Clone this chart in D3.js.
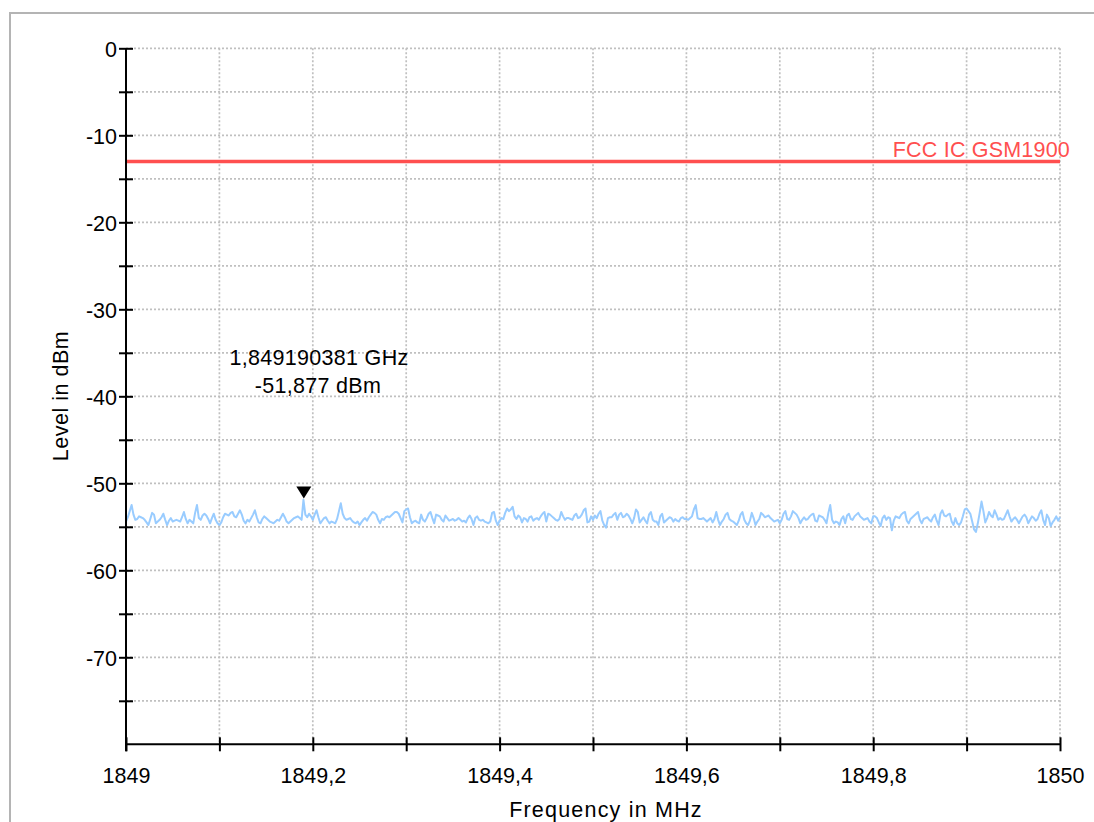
<!DOCTYPE html>
<html>
<head>
<meta charset="utf-8">
<script src="https://cdn.jsdelivr.net/npm/d3@7/dist/d3.min.js"></script>
<style>
  html, body { margin: 0; padding: 0; background: #fff; }
  svg { display: block; font-family: "Liberation Sans", Arial, Helvetica, sans-serif; }
</style>
</head>
<body>
<svg id="chart" width="1094" height="822"></svg>
<script>
// ---------------- data ----------------
const freqDomain = [1849, 1850];          // MHz
const levelDomain = [-80, 0];             // dBm
const sweepStart = 1849;                  // MHz
const sweepStep = 0.002;                  // MHz per sample
const levels = [
  -54.4,-53.9,-53.2,-52.5,-53.6,-54.2,-54.1,-53.8,-53.9,-54.0,-54.2,-54.5,-54.8,-54.1,-53.4,-53.6,-54.6,-54.4,-54.2,-53.9,-53.5,-54.2,-54.8,-54.3,-54.0,
  -54.4,-54.3,-54.2,-54.3,-54.4,-53.9,-53.3,-54.1,-54.6,-54.2,-54.4,-54.6,-53.4,-52.5,-54.0,-54.2,-53.7,-53.5,-53.7,-54.1,-54.6,-54.0,-53.5,-54.2,-54.6,
  -54.8,-54.5,-53.9,-53.5,-53.6,-53.7,-53.4,-53.3,-53.8,-53.9,-53.5,-53.1,-53.6,-54.3,-54.6,-54.2,-54.4,-54.0,-53.6,-53.1,-53.9,-54.5,-54.6,-54.1,-53.8,
  -54.0,-54.2,-54.4,-54.5,-54.6,-54.4,-54.2,-54.3,-53.9,-53.5,-53.9,-54.4,-54.6,-54.4,-54.2,-54.0,-53.9,-53.8,-54.0,-54.2,-51.9,-53.6,-53.9,-53.5,-53.8,
  -54.2,-53.6,-53.1,-53.9,-54.6,-54.3,-54.0,-53.9,-54.3,-54.6,-54.4,-54.5,-54.6,-54.1,-53.2,-52.3,-53.5,-54.0,-54.2,-54.1,-54.0,-54.3,-54.5,-54.6,-54.4,
  -54.8,-54.5,-54.2,-54.0,-54.3,-53.9,-53.6,-53.3,-53.4,-53.6,-54.2,-54.6,-54.1,-54.2,-53.9,-53.8,-53.9,-53.7,-53.5,-53.3,-53.3,-53.5,-54.0,-54.5,-53.2,
  -53.0,-52.9,-53.9,-54.6,-54.4,-54.3,-54.5,-54.6,-53.6,-54.2,-54.4,-54.0,-53.5,-53.3,-54.0,-54.6,-53.6,-53.7,-53.8,-54.2,-54.4,-53.7,-54.0,-54.3,-54.2,
  -54.1,-54.3,-54.2,-54.0,-54.2,-54.4,-54.3,-54.5,-54.0,-53.7,-54.1,-54.8,-54.0,-53.8,-54.2,-54.3,-54.2,-54.4,-54.5,-54.6,-54.4,-53.4,-53.3,-54.3,-54.8,
  -54.3,-54.0,-54.1,-53.4,-52.9,-53.2,-53.0,-52.7,-53.8,-54.1,-53.7,-53.9,-54.5,-54.0,-54.1,-54.4,-53.9,-53.8,-54.3,-54.1,-54.0,-54.2,-53.8,-53.5,-53.3,
  -54.4,-53.5,-53.6,-53.8,-54.0,-54.2,-54.3,-54.1,-53.3,-53.8,-54.2,-54.0,-54.0,-54.1,-54.2,-53.7,-53.5,-54.0,-53.9,-53.6,-53.1,-52.9,-54.5,-54.4,-53.8,
  -54.2,-53.7,-54.0,-53.5,-53.2,-54.3,-54.8,-55.1,-54.0,-53.9,-53.9,-53.6,-53.4,-54.2,-53.6,-53.4,-53.9,-53.8,-53.5,-53.7,-54.1,-54.6,-54.0,-53.0,-53.3,
  -54.5,-54.2,-53.9,-54.3,-54.6,-53.6,-53.3,-54.2,-54.4,-54.4,-54.8,-53.8,-53.5,-54.5,-54.3,-54.1,-53.9,-54.0,-54.4,-54.1,-54.3,-54.4,-54.0,-53.9,-54.1,
  -54.1,-54.2,-54.0,-53.8,-53.0,-52.5,-54.0,-54.1,-54.1,-54.0,-54.2,-54.4,-54.2,-54.0,-54.5,-54.1,-53.3,-54.2,-54.8,-54.4,-54.1,-53.6,-53.4,-54.1,-54.3,
  -54.4,-54.6,-54.8,-54.3,-53.6,-53.3,-54.2,-54.6,-54.8,-54.3,-53.4,-54.0,-54.8,-54.4,-54.1,-53.4,-53.6,-53.9,-53.8,-53.7,-54.0,-54.2,-54.4,-54.3,-54.2,
  -54.6,-54.2,-53.5,-53.2,-54.1,-54.2,-53.8,-53.2,-53.4,-53.6,-54.0,-54.6,-54.2,-53.9,-54.2,-54.1,-53.8,-53.6,-53.5,-54.3,-54.4,-53.7,-53.8,-53.9,-54.2,
  -54.6,-53.4,-52.5,-54.2,-54.6,-54.4,-54.5,-54.8,-54.1,-53.8,-54.6,-53.7,-53.5,-54.1,-54.2,-53.8,-53.6,-53.4,-53.8,-54.0,-54.2,-54.1,-54.0,-54.4,-54.6,
  -53.8,-53.8,-54.0,-54.5,-54.9,-54.0,-53.7,-54.2,-53.9,-54.0,-55.4,-54.3,-53.8,-53.9,-54.0,-53.6,-53.4,-53.3,-54.3,-54.6,-54.1,-53.9,-53.7,-53.5,-53.3,
  -54.2,-54.6,-54.1,-54.0,-53.9,-54.2,-54.4,-53.9,-53.6,-54.3,-54.8,-53.5,-53.1,-53.7,-53.8,-53.6,-53.5,-54.4,-54.8,-54.0,-54.6,-54.8,-54.5,-53.8,-53.0,
  -52.9,-53.2,-53.5,-54.4,-55.3,-55.6,-54.6,-53.4,-52.1,-53.2,-54.5,-54.0,-53.3,-53.7,-53.9,-53.1,-53.6,-54.2,-54.0,-54.2,-54.1,-53.6,-53.1,-53.8,-54.4,
  -54.1,-53.9,-54.2,-54.6,-54.2,-53.8,-53.6,-53.9,-54.6,-54.2,-53.8,-54.0,-54.3,-54.1,-53.5,-53.1,-54.2,-54.8,-53.6,-54.0,-54.9,-54.5,-54.2,-53.8,-54.3,
  -53.9
];
const limitLevel = -13;                   // dBm
const limitLabel = "FCC IC GSM1900";
const markerFreq = 1849.190381;           // MHz
const markerLevel = -51.877;              // dBm
const markerLines = ["1,849190381 GHz", "-51,877 dBm"];
const yMajorTicks = [-70, -60, -50, -40, -30, -20, -10, 0];
const yMinorTicks = [-75, -65, -55, -45, -35, -25, -15, -5];
const xTicks = [1849, 1849.1, 1849.2, 1849.3, 1849.4, 1849.5, 1849.6, 1849.7, 1849.8, 1849.9, 1850];
const xTickLabels = ["1849", "", "1849,2", "", "1849,4", "", "1849,6", "", "1849,8", "", "1850"];
const xTitle = "Frequency in MHz";
const yTitle = "Level in dBm";

// ---------------- layout ----------------
const svg = d3.select("#chart");
const L = 126, R = 1060, T = 48.3, B = 744.3;
const FS = 21.5;
const x = d3.scaleLinear().domain(freqDomain).range([L, R]);
const y = d3.scaleLinear().domain(levelDomain).range([B, T]);

// outer frame
svg.append("rect").attr("x", 10).attr("y", 13).attr("width", 1110).attr("height", 830)
  .attr("fill", "#fff").attr("stroke", "#b4b4b4").attr("stroke-width", 2);

// grid
const grid = svg.append("g").attr("stroke", "#c0c0c0").attr("stroke-width", 1.7)
  .attr("stroke-dasharray", "2,2").attr("fill", "none");
grid.selectAll("line.h").data(yMajorTicks.concat(yMinorTicks)).join("line").attr("class", "h")
  .attr("x1", L).attr("x2", R).attr("y1", d => y(d)).attr("y2", d => y(d));
grid.selectAll("line.v").data(xTicks.slice(1)).join("line").attr("class", "v")
  .attr("y1", T).attr("y2", B).attr("x1", d => x(d)).attr("x2", d => x(d));

// limit line
svg.append("line").attr("x1", x(freqDomain[0])).attr("x2", x(freqDomain[1]))
  .attr("y1", y(limitLevel)).attr("y2", y(limitLevel))
  .attr("stroke", "#ff4f4f").attr("stroke-width", 3.5);
svg.append("text").attr("x", 1070).attr("y", y(limitLevel) - 4.5)
  .attr("text-anchor", "end").attr("fill", "#ff4f4f").attr("font-size", FS)
  .attr("letter-spacing", 0.2).text(limitLabel);

// trace
const line = d3.line().x((d, i) => x(sweepStart + i * sweepStep)).y(d => y(d));
svg.append("path").datum(levels).attr("d", line).attr("fill", "none")
  .attr("stroke", "#99ccff").attr("stroke-width", 2).attr("stroke-linejoin", "round");

// axes
const yAxis = d3.axisLeft(y).tickValues(yMajorTicks.concat(yMinorTicks))
  .tickSize(7).tickFormat(d => (d % 10 === 0 ? String(d) : ""));
const gy = svg.append("g").attr("transform", `translate(${L},0)`).call(yAxis);
gy.select(".domain").remove();
gy.selectAll(".tick line").attr("x1", -7).attr("x2", 7).attr("stroke", "#000").attr("stroke-width", 2);
gy.selectAll(".tick text").attr("x", -9).attr("dy", "0.38em").attr("font-size", FS)
  .attr("font-family", "Liberation Sans, Arial, sans-serif").attr("fill", "#000");

const xAxis = d3.axisBottom(x).tickValues(xTicks).tickSize(7)
  .tickFormat((d, i) => xTickLabels[i]);
const gx = svg.append("g").attr("transform", `translate(0,${B})`).call(xAxis);
gx.select(".domain").remove();
gx.selectAll(".tick line").attr("y1", -7).attr("y2", 7).attr("stroke", "#000").attr("stroke-width", 2);
gx.selectAll(".tick text").attr("y", 38.5).attr("dy", 0).attr("font-size", FS)
  .attr("font-family", "Liberation Sans, Arial, sans-serif").attr("fill", "#000");

// axis lines
svg.append("line").attr("x1", L).attr("x2", L).attr("y1", y(0)).attr("y2", B + 7)
  .attr("stroke", "#000").attr("stroke-width", 2);
svg.append("line").attr("x1", L).attr("x2", R).attr("y1", B).attr("y2", B)
  .attr("stroke", "#000").attr("stroke-width", 2);

// axis titles
svg.append("text").attr("x", 606).attr("y", 817).attr("text-anchor", "middle")
  .attr("font-size", FS).attr("letter-spacing", 1.2).text(xTitle);
svg.append("text").attr("transform", "translate(68,396) rotate(-90)").attr("text-anchor", "middle")
  .attr("font-size", FS).attr("letter-spacing", 0.5).text(yTitle);

// marker
const mx = x(markerFreq), my = y(markerLevel) - 1.2;
svg.append("path").attr("d", `M${mx - 7.5},${my - 12}L${mx + 7.5},${my - 12}L${mx},${my}Z`).attr("fill", "#000");
const mt = svg.append("g").attr("font-size", FS).attr("text-anchor", "middle").attr("fill", "#000");
mt.append("text").attr("x", 319).attr("y", 365).attr("letter-spacing", 0.3).text(markerLines[0]);
mt.append("text").attr("x", 318).attr("y", 393).attr("letter-spacing", 0.3).text(markerLines[1]);
</script>
</body>
</html>
